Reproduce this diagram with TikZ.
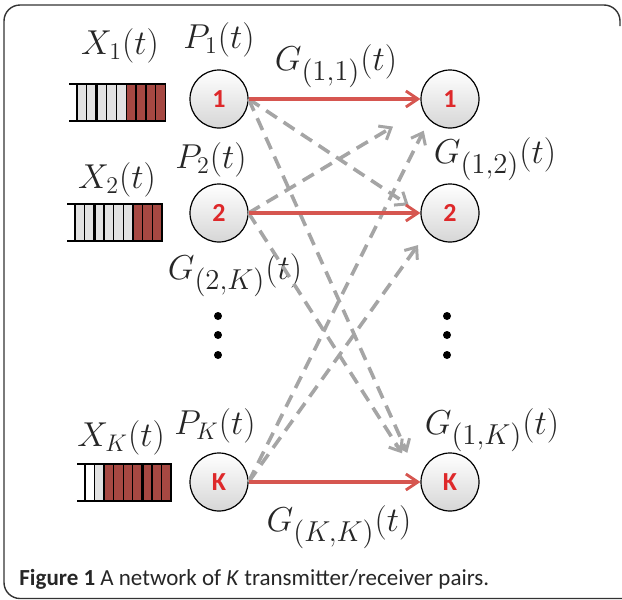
\documentclass[tikz,border=0pt]{standalone}
\usepackage{amsmath}
\usepackage{fontspec}
\newfontfamily\capfont{Carlito}
\usetikzlibrary{arrows.meta}

\begin{document}
\begin{tikzpicture}[x=0.5pt, y=-0.5pt,
    station/.style={circle, draw=black, line width=0.6pt, minimum size=29pt, inner sep=0pt,
      top color=white, bottom color=gray!32, text=idRed,
      font=\capfont\bfseries\fontsize{13}{15}\selectfont},
    qlabel/.style={inner sep=0pt, text=black!85, font=\fontsize{16.5}{19}\selectfont},
    glabel/.style={inner sep=0pt, text=black!85, font=\fontsize{19}{22}\selectfont},
    sigLink/.style={draw=linkRed, line width=1.6pt,
      -{Straight Barb[length=6pt, width=8pt, line width=1.4pt]}},
    xLink/.style={draw=linkGray, line width=1.8pt, dash pattern=on 6.5pt off 4pt,
      -{Straight Barb[length=5pt, width=8pt, line width=1.5pt]}}]
  \definecolor{idRed}{RGB}{222,40,42}
  \definecolor{linkRed}{RGB}{214,86,80}
  \definecolor{linkGray}{RGB}{165,165,165}
  \definecolor{cellRed}{RGB}{166,72,66}
  \definecolor{cellGray}{RGB}{226,226,226}
  \def\qh{37}

  \useasboundingbox (0,0) rectangle (622,600);

  %--- Frame ---
  \draw[line width=0.7pt, black!80, rounded corners=8pt]
      (620,26) -- (620,5) -- (4,5) -- (4,598.5) -- (622,598.5);

  %--- Queues (9 cells, separators after cells 2 and 6) ---
  \foreach \qx/\qy/\qw/\qred/\qpale in {77/84/9.85/5/0, 75/204/9.67/6/0, 85/464/9.56/2/1} {
    \draw[line width=0.7pt] ({\qx-8},\qy) -- (\qx,\qy) ({\qx-8},{\qy+\qh}) -- (\qx,{\qy+\qh});
    \foreach \i in {0,...,8} {
      \ifnum\i<\qred
        \ifnum\i<\qpale \fill[white] \else \fill[cellGray] \fi
      \else
        \fill[cellRed]
      \fi
        ({\qx+\i*\qw},\qy) rectangle ({\qx+(\i+1)*\qw},{\qy+\qh});
      \draw[line width=0.6pt] ({\qx+\i*\qw},\qy) rectangle ({\qx+(\i+1)*\qw},{\qy+\qh});
    }
    \foreach \g in {2,6} { \draw[line width=1.3pt] ({\qx+\g*\qw},\qy) -- ({\qx+\g*\qw},{\qy+\qh}); }
  }

  %--- Transmitters and receivers ---
  \node[station] (tx1) at (219,99)  {1};
  \node[station] (tx2) at (219,213) {2};
  \node[station] (txK) at (219,482) {K};
  \node[station] (rx1) at (450,99)  {1};
  \node[station] (rx2) at (450,213) {2};
  \node[station] (rxK) at (450,482) {K};

  %--- Queue and power labels ---
  \node[qlabel] (lblX1) at (120,46)  {$X_1(t)$};
  \node[qlabel] (lblP1) at (219,40)  {$P_1(t)$};
  \node[qlabel] (lblX2) at (117,180) {$X_2(t)$};
  \node[qlabel] (lblP2) at (211,160) {$P_2(t)$};
  \node[qlabel] (lblXK) at (121,438) {$X_K(t)$};
  \node[qlabel] (lblPK) at (215,426) {$P_K(t)$};

  %--- Channel gain labels ---
  \node[glabel] (lblG11) at (336,66)  {$G_{(1,1)}(t)$};
  \node[glabel] (lblG12) at (495,159) {$G_{(1,2)}(t)$};
  \node[glabel] (lblG2K) at (235,275) {$G_{(2,K)}(t)$};
  \node[glabel] (lblG1K) at (492,430) {$G_{(1,K)}(t)$};
  \node[glabel] (lblGKK) at (339,527) {$G_{(K,K)}(t)$};

  %--- Vertical dots ---
  \foreach \y in {316,335,355} {
    \fill (218,\y) circle (2pt);
    \fill (447,\y) circle (2pt);
  }

  %--- Interference links ---
  \draw[xLink, shorten >=7pt]  (tx1.east) -- (rx2.west);
  \draw[xLink, shorten >=16pt] (tx1.east) -- (rxK.west);
  \draw[xLink, shorten >=17pt] (tx2.east) -- (rx1.200);
  \draw[xLink, shorten >=17pt] (tx2.east) -- (rxK.west);
  \draw[xLink, shorten >=6pt]  (txK.east) -- (rx1.south west);
  \draw[xLink, shorten >=8pt]  (txK.east) -- (rx2.220);

  %--- Direct links ---
  \draw[sigLink] (tx1) -- (rx1);
  \draw[sigLink] (tx2) -- (rx2);
  \draw[sigLink] (txK) -- (rxK);

  %--- Caption ---
  \node[anchor=base west, inner sep=0pt, text=black!85,
        font=\capfont\fontsize{11.5}{13}\selectfont] (caption) at (19,585)
      {\textbf{Figure 1} A network of \textit{K} transmitter/receiver pairs.};

\end{tikzpicture}
\end{document}
